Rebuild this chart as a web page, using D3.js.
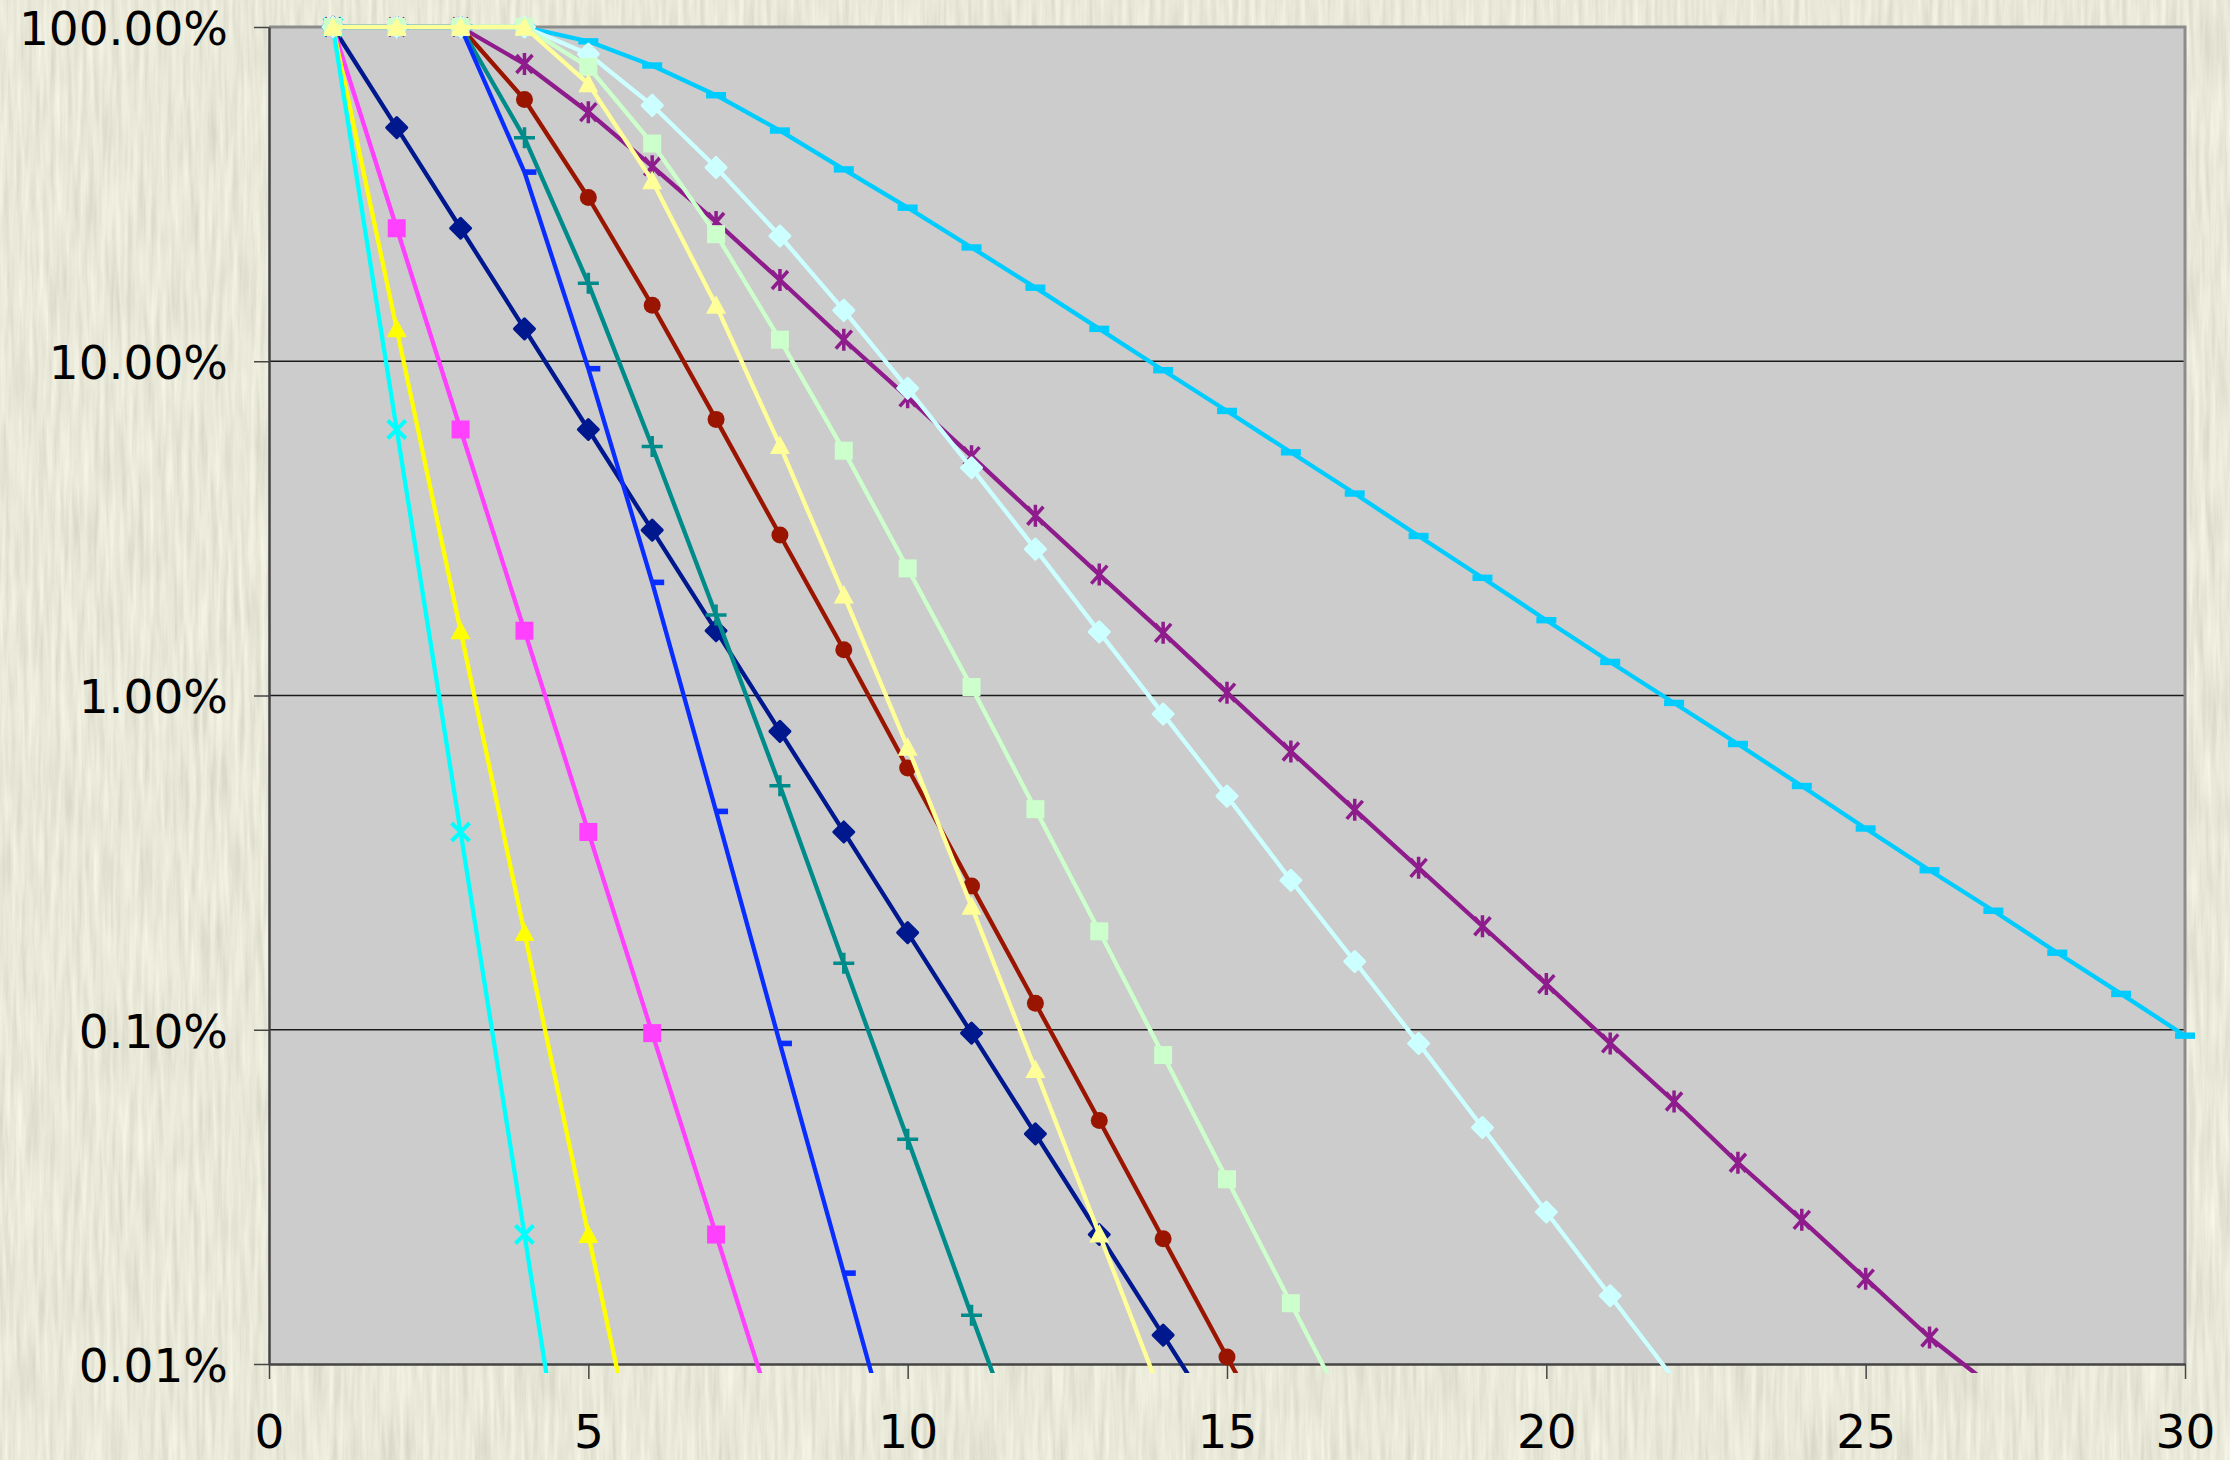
<!DOCTYPE html>
<meta charset="utf-8">
<style>
  body { margin: 0; background: #d0cfb0; }
  svg { display: block; font-family: "DejaVu Sans", Verdana, sans-serif; }
</style>
<svg width="2230" height="1460"></svg>
<script src="https://d3js.org/d3.v7.min.js"></script>
<script>

	// tick values and labels
	var xTicks = [0, 5, 10, 15, 20, 25, 30];
	var yTicks = [100, 10, 1, 0.1, 0.01];
	var yTickLabels = ["100.00%", "10.00%", "1.00%", "0.10%", "0.01%"];

	// values in percent, first point at x = 1
	var navyDiamonds = [100, 50, 25, 12.5, 6.25, 3.125, 1.5625, 0.78125, 0.3906, 0.1953, 0.0977, 0.0488, 0.0244, 0.0122, 0.0061];
	var magentaSquares = [100, 25, 6.25, 1.5625, 0.3906, 0.0977, 0.0244, 0.0061];
	var yellowTriangles = [100, 12.5, 1.5625, 0.1953, 0.0244, 0.0031];
	var cyanCrosses = [100, 6.25, 0.3906, 0.0244, 0.0015];
	var purpleStars = [100, 100, 100, 77.5, 55.6, 38.3, 26.1, 17.5, 11.6, 7.8, 5.2, 3.45, 2.3, 1.54, 1.02, 0.68, 0.455, 0.305, 0.204, 0.137, 0.091, 0.061, 0.040, 0.027, 0.018, 0.012, 0.0085];
	var maroonCircles = [100, 100, 100, 60.7, 30.9, 14.7, 6.7, 3.02, 1.37, 0.607, 0.269, 0.12, 0.0535, 0.0237, 0.0105, 0.0047];
	var tealPlus = [100, 100, 100, 46.6, 17.1, 5.56, 1.74, 0.537, 0.158, 0.047, 0.014, 0.0042];
	var blueDashes = [100, 100, 100, 36.8, 9.5, 2.18, 0.45, 0.091, 0.0187, 0.0038];
	var skyDashes = [100, 100, 100, 100, 90.6, 76.7, 62.5, 49, 37.5, 28.8, 21.9, 16.6, 12.5, 9.4, 7.1, 5.34, 4.02, 3.0, 2.25, 1.68, 1.26, 0.95, 0.716, 0.536, 0.40, 0.30, 0.227, 0.17, 0.128, 0.096];
	var paleCyanDiamonds = [100, 100, 100, 100, 83, 58.3, 38, 23.7, 14.2, 8.3, 4.8, 2.74, 1.55, 0.88, 0.50, 0.28, 0.16, 0.091, 0.051, 0.0285, 0.016, 0.009];
	var paleGreenSquares = [100, 100, 100, 100, 76, 44.8, 24, 11.6, 5.4, 2.4, 1.06, 0.457, 0.197, 0.084, 0.0357, 0.0152, 0.0065];
	var paleYellowTriangles = [100, 100, 100, 100, 67.6, 34.7, 14.7, 5.6, 2.0, 0.70, 0.234, 0.076, 0.0245, 0.0078];

	var series = [
		{values: navyDiamonds, color: "#00188e", marker: "diamond"},
		{values: magentaSquares, color: "#ff40ff", marker: "square"},
		{values: yellowTriangles, color: "#ffff00", marker: "triangle"},
		{values: cyanCrosses, color: "#00ffff", marker: "x"},
		{values: purpleStars, color: "#8e1c8c", marker: "star"},
		{values: maroonCircles, color: "#991500", marker: "circle"},
		{values: tealPlus, color: "#008b8b", marker: "plus"},
		{values: blueDashes, color: "#0a2dff", marker: "dashRight"},
		{values: skyDashes, color: "#00ccff", marker: "dash"},
		{values: paleCyanDiamonds, color: "#ccffff", marker: "diamond"},
		{values: paleGreenSquares, color: "#ccffcc", marker: "square"},
		{values: paleYellowTriangles, color: "#ffff99", marker: "triangle"}
	];

	var markerPaths = {
		diamond: {d: "M0,-10L10,0L0,10L-10,0Z", fill: true, sw: 3},
		square: {d: "M-9,-9h18v18h-18Z", fill: true, sw: 0},
		triangle: {d: "M0,-10L10,8.5L-10,8.5Z", fill: true, sw: 0},
		circle: {d: "M8.5,0A8.5,8.5 0 1,1 -8.5,0A8.5,8.5 0 1,1 8.5,0Z", fill: true, sw: 0},
		x: {d: "M-9,-9L9,9M9,-9L-9,9", fill: false, sw: 4},
		plus: {d: "M-10.5,0H10.5M0,-10.5V10.5", fill: false, sw: 3.5},
		star: {d: "M-8,-9L8,9M8,-9L-8,9M0,-11V11", fill: false, sw: 3.5},
		dashRight: {d: "M0,-2.8H12V2.8H0Z", fill: true, sw: 0},
		dash: {d: "M-10,-3.2H10V3.2H-10Z", fill: true, sw: 0}
	};

	var svg = d3.select("svg"),
		margin = {top: 27, right: 45, bottom: 96, left: 269},
		width = +svg.attr("width") - margin.left - margin.right,
		height = +svg.attr("height") - margin.top - margin.bottom;

	// paper-like background
	var defs = svg.append("defs");
	var paper = defs.append("filter").attr("id", "paper")
		.attr("x", 0).attr("y", 0).attr("width", "100%").attr("height", "100%");
	paper.append("feTurbulence")
		.attr("type", "fractalNoise")
		.attr("baseFrequency", "0.18 0.012")
		.attr("numOctaves", 3)
		.attr("seed", 7)
		.attr("result", "n");
	paper.append("feColorMatrix")
		.attr("in", "n")
		.attr("type", "matrix")
		.attr("values", "0.3 0 0 0 0.66  0.3 0 0 0 0.655  0.3 0 0 0 0.54  0 0 0 0 1");

	svg.append("rect")
		.attr("width", +svg.attr("width"))
		.attr("height", +svg.attr("height"))
		.attr("filter", "url(#paper)");

	defs.append("clipPath").attr("id", "clip")
		.append("rect")
		.attr("x", -5).attr("y", -20)
		.attr("width", width + 25).attr("height", height + 29);

	var g = svg.append("g").attr("transform", "translate(" + margin.left + "," + margin.top + ")");

	var x = d3.scaleLinear().domain([0, 30]).range([0, width]);
	var y = d3.scaleLog().domain([0.01, 100]).range([height, 0]);

	g.append("rect")
		.attr("width", width)
		.attr("height", height)
		.attr("fill", "#cccccc");

	// gridlines
	g.append("g")
		.selectAll("line")
		.data(yTicks.filter(function(d) { return d < 100 && d > 0.01; }))
		.enter().append("line")
		.attr("x1", 0).attr("x2", width)
		.attr("y1", function(d) { return y(d); })
		.attr("y2", function(d) { return y(d); })
		.attr("stroke", "#1a1a1a")
		.attr("stroke-width", 1.3);

	// top and right border
	g.append("path")
		.attr("d", "M0," + y(100) + "H" + x(30) + "V" + y(0.01))
		.attr("fill", "none")
		.attr("stroke", "#8c8c8c")
		.attr("stroke-width", 3);

	var yAxis = g.append("g")
		.call(d3.axisLeft(y).tickValues(yTicks)
			.tickFormat(function(d, i) { return yTickLabels[i]; })
			.tickSize(15).tickSizeOuter(0).tickPadding(26));

	var xAxis = g.append("g")
		.attr("transform", "translate(0," + height + ")")
		.call(d3.axisBottom(x).tickValues(xTicks).tickSize(15).tickSizeOuter(0).tickPadding(36));

	[yAxis, xAxis].forEach(function(a) {
		a.attr("font-size", 47).attr("font-family", null);
		a.select(".domain").attr("stroke", "#444").attr("stroke-width", 2.5);
		a.selectAll(".tick line").attr("stroke", "#444").attr("stroke-width", 1.5);
		a.selectAll(".tick text").attr("fill", "#000");
	});
	yAxis.selectAll(".tick text").attr("dy", "0.37em");

	var line = d3.line()
		.x(function(d) { return x(d.x); })
		.y(function(d) { return y(d.v); });

	series.forEach(function(s) {
		var pts = s.values.map(function(v, i) { return {x: i + 1, v: v}; });
		var sg = g.append("g");

		sg.append("path")
			.datum(pts)
			.attr("clip-path", "url(#clip)")
			.attr("d", line)
			.attr("fill", "none")
			.attr("stroke", s.color)
			.attr("stroke-width", 4.3)
			.attr("stroke-linejoin", "round");

		var m = markerPaths[s.marker];
		sg.selectAll(".mk")
			.data(pts.filter(function(d) { return d.v >= 0.01; }))
			.enter().append("path")
			.attr("transform", function(d) { return "translate(" + x(d.x) + "," + y(d.v) + ")"; })
			.attr("d", m.d)
			.attr("fill", m.fill ? s.color : "none")
			.attr("stroke", m.sw ? s.color : "none")
			.attr("stroke-width", m.sw)
			.attr("stroke-linejoin", "round");
	});

</script>
